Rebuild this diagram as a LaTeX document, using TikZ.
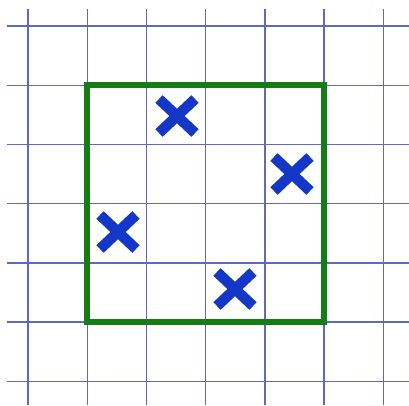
\documentclass[tikz,border=0pt]{standalone}
\begin{document}
\begin{tikzpicture}[x=1pt,y=-1pt,
  gridline/.style={draw=gridblue,line width=1.4pt},
  frame/.style={draw=boxgreen,line width=6pt,line join=miter},
  crossmark/.style={draw=crossblue,line width=10.5pt,line cap=butt}]
\definecolor{gridblue}{RGB}{95,105,195}
\definecolor{boxgreen}{RGB}{20,125,20}
\definecolor{crossblue}{RGB}{20,55,200}
\fill[white] (0,0) rectangle (409,405);
\useasboundingbox (0,0) rectangle (409,405);
\foreach \i in {0,...,6} {
  \draw[gridline] (28+59.2*\i,9) -- (28+59.2*\i,405);
  \draw[gridline] (7,26+59.2*\i) -- (409,26+59.2*\i);
}
\draw[frame] (87.2,85.2) rectangle (324,322);
\foreach \cx/\cy in {177/116, 292/174, 118/232, 235/289} {
  \draw[crossmark] (\cx-18,\cy-17) -- (\cx+18,\cy+17);
  \draw[crossmark] (\cx-18,\cy+17) -- (\cx+18,\cy-17);
}
\end{tikzpicture}
\end{document}
